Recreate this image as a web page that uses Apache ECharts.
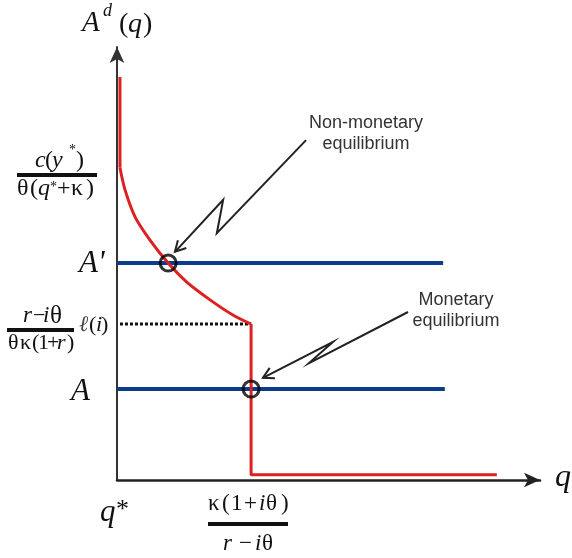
<!DOCTYPE html>
<html>
<head>
<meta charset="utf-8">
<script src="https://cdn.jsdelivr.net/npm/echarts@6/dist/echarts.min.js"></script>
<style>
  html, body { margin: 0; padding: 0; background: #fff; }
  #chart { width: 572px; height: 558px; }
</style>
</head>
<body>
<div id="chart"></div>
<script>
// demand curve A^d(q): vertical top, convex part, then the step down at kappa(1+i theta)/(r-i theta)
const topX = [0.7, 0.7];
const topY = [93.1, 72.1];
const curveX = [0.7, 1.9, 4.3, 7.8, 12.1, 16.5, 22.0, 27.4, 31.7];
const curveY = [72.1, 67.0, 60.7, 55.4, 50.1, 45.7, 41.6, 38.1, 36.0];
const stepX = [31.7, 31.7, 89.8];
const stepY = [36.0, 1.2, 1.2];

// A' and A levels
const levelY = [50.1, 21.0];
const levelEnd = [77.1, 77.5];

// dotted guide at l(i) level
const guideX = [0.7, 31.7];
const guideY = [36.0, 36.0];

// equilibria
const eqX = [12.1, 31.7];
const eqY = [50.1, 21.0];

// callout arrows (lightning shape, last point is the tip)
const nonMonX = [44.7, 23.6, 25.1, 13.7];
const nonMonY = [78.5, 57.0, 64.7, 52.7];
const monX = [68.8, 45.4, 51.1, 34.5];
const monY = [38.8, 27.0, 31.9, 23.6];

const zip = (xs, ys) => xs.map((x, i) => [x, ys[i]]);

const RED = '#dd2020';
const BLUE = '#0a3e8a';
const SERIF = '"Liberation Serif", "DejaVu Serif", serif';
const SANS = '"Liberation Sans", Arial, sans-serif';

function arrowSeries(xs, ys) {
  return {
    type: 'custom',
    data: [[xs[0], ys[0]]],
    z: 5,
    renderItem: function (params, api) {
      const pts = xs.map((x, i) => api.coord([x, ys[i]]));
      const a = pts[pts.length - 2], b = pts[pts.length - 1];
      const ang = Math.atan2(b[1] - a[1], b[0] - a[0]);
      const L = 12, w = 0.5;
      const h1 = [b[0] - L * Math.cos(ang - w), b[1] - L * Math.sin(ang - w)];
      const h2 = [b[0] - L * Math.cos(ang + w), b[1] - L * Math.sin(ang + w)];
      const st = { stroke: '#222', lineWidth: 2, fill: null };
      return {
        type: 'group',
        children: [
          { type: 'polyline', shape: { points: pts }, style: st },
          { type: 'polyline', shape: { points: [h1, b, h2] }, style: st }
        ]
      };
    }
  };
}

// one piece of text, left edge at x, vertical middle at y
function g(x, y, text, size, italic, opts) {
  opts = opts || {};
  const align = opts.align || 'left';
  return {
    type: 'text',
    x: x,
    y: y,
    z: 10,
    style: {
      text: text,
      font: (italic ? 'italic ' : '') + size + 'px ' + (opts.family || SERIF),
      fill: opts.color || '#111',
      textAlign: align,
      align: align,
      textVerticalAlign: 'middle',
      verticalAlign: 'middle'
    }
  };
}

function bar(x, y, w) {
  return { type: 'rect', z: 10, shape: { x: x, y: y, width: w, height: 4 }, style: { fill: '#111' } };
}

const chart = echarts.init(document.getElementById('chart'));
chart.setOption({
  animation: false,
  grid: { left: 117, right: 32, top: 47, bottom: 78 },
  xAxis: {
    type: 'value', min: 0, max: 100,
    axisLine: { show: true, symbol: ['none', 'arrow'], symbolSize: [11, 16], lineStyle: { color: '#222', width: 2.5 } },
    axisTick: { show: false }, axisLabel: { show: false }, splitLine: { show: false }
  },
  yAxis: {
    type: 'value', min: 0, max: 100,
    axisLine: { show: true, symbol: ['none', 'arrow'], symbolSize: [11, 16], lineStyle: { color: '#333', width: 2 } },
    axisTick: { show: false }, axisLabel: { show: false }, splitLine: { show: false }
  },
  series: [
    { type: 'line', data: zip(topX, topY), symbol: 'none', lineStyle: { color: RED, width: 3 }, z: 3 },
    { type: 'line', data: zip(curveX, curveY), smooth: 0.3, symbol: 'none', lineStyle: { color: RED, width: 3 }, z: 3 },
    { type: 'line', data: zip(stepX, stepY), symbol: 'none', lineStyle: { color: RED, width: 3 }, z: 3 },
    { type: 'line', data: [[0, levelY[0]], [levelEnd[0], levelY[0]]], symbol: 'none', lineStyle: { color: BLUE, width: 4 }, z: 2 },
    { type: 'line', data: [[0, levelY[1]], [levelEnd[1], levelY[1]]], symbol: 'none', lineStyle: { color: BLUE, width: 4 }, z: 2 },
    { type: 'line', data: zip(guideX, guideY), symbol: 'none', lineStyle: { color: '#111', width: 3, type: [3, 2] }, z: 2 },
    {
      type: 'scatter', data: zip(eqX, eqY), symbol: 'circle', symbolSize: 16, z: 6,
      itemStyle: { color: 'rgba(0,0,0,0)', borderColor: '#000', borderWidth: 3 }
    },
    arrowSeries(nonMonX, nonMonY),
    arrowSeries(monX, monY)
  ],
  graphic: [
    // A^d (q)
    g(82, 23, 'A', 29, true),
    g(103, 11, 'd', 18, true),
    g(119, 25, '(', 28, false),
    g(128, 25, 'q', 28, true),
    g(143, 25, ')', 28, false),

    // c(y*) / theta(q* + kappa)
    g(35, 161, 'c', 24, true),
    g(45, 161, '(', 24, false),
    g(52, 161, 'y', 24, true),
    g(69, 150, '*', 14, false),
    g(76, 161, ')', 24, false),
    bar(17, 173, 80),
    g(17, 189, 'θ', 24, false),
    g(30, 189, '(', 24, false),
    g(38, 189, 'q', 24, true),
    g(50, 187, '*', 14, false),
    g(57, 189, '+', 24, false),
    g(71, 189, 'κ', 24, false),
    g(86, 189, ')', 24, false),

    // A'
    g(79, 264, "A'", 31, true),

    // (r - i theta) / (theta kappa (1+r)) l(i)
    g(23, 316, 'r', 23, true),
    g(33, 316, '−', 22, false),
    g(43, 316, 'i', 23, true),
    g(50, 316, 'θ', 25, false),
    bar(7, 328, 67),
    g(8, 343, 'θ', 22, false),
    g(20, 343, 'κ', 22, false),
    g(32, 343, '(', 22, false),
    g(38, 343, '1', 22, false),
    g(47, 343, '+', 22, false),
    g(57, 343, 'r', 22, true),
    g(67, 343, ')', 22, false),
    g(79, 325, 'ℓ', 22, true, { color: '#444' }),
    g(89, 325, '(', 22, false),
    g(96, 325, 'i', 22, true),
    g(101, 325, ')', 22, false),

    // A
    g(71, 392, 'A', 31, true),

    // q*
    g(100, 513, 'q', 31, true),
    g(116, 510, '*', 26, false),

    // kappa(1+i theta) / (r - i theta)
    g(208, 504, 'κ', 23, false),
    g(222, 504, '(', 23, false),
    g(231, 504, '1', 23, false),
    g(244, 504, '+', 23, false),
    g(259, 504, 'i', 23, true),
    g(266, 504, 'θ', 23, false),
    g(281, 504, ')', 23, false),
    bar(208, 522, 80),
    g(223, 544, 'r', 23, true),
    g(239, 544, '−', 23, false),
    g(255, 544, 'i', 23, true),
    g(262, 544, 'θ', 23, false),

    // q on the horizontal axis
    g(555, 478, 'q', 32, true),

    // callouts
    g(366, 123, 'Non-monetary', 18, false, { family: SANS, color: '#333', align: 'center' }),
    g(366, 144, 'equilibrium', 18, false, { family: SANS, color: '#333', align: 'center' }),
    g(456, 300, 'Monetary', 18, false, { family: SANS, color: '#333', align: 'center' }),
    g(456, 321, 'equilibrium', 18, false, { family: SANS, color: '#333', align: 'center' })
  ]
});
</script>
</body>
</html>
